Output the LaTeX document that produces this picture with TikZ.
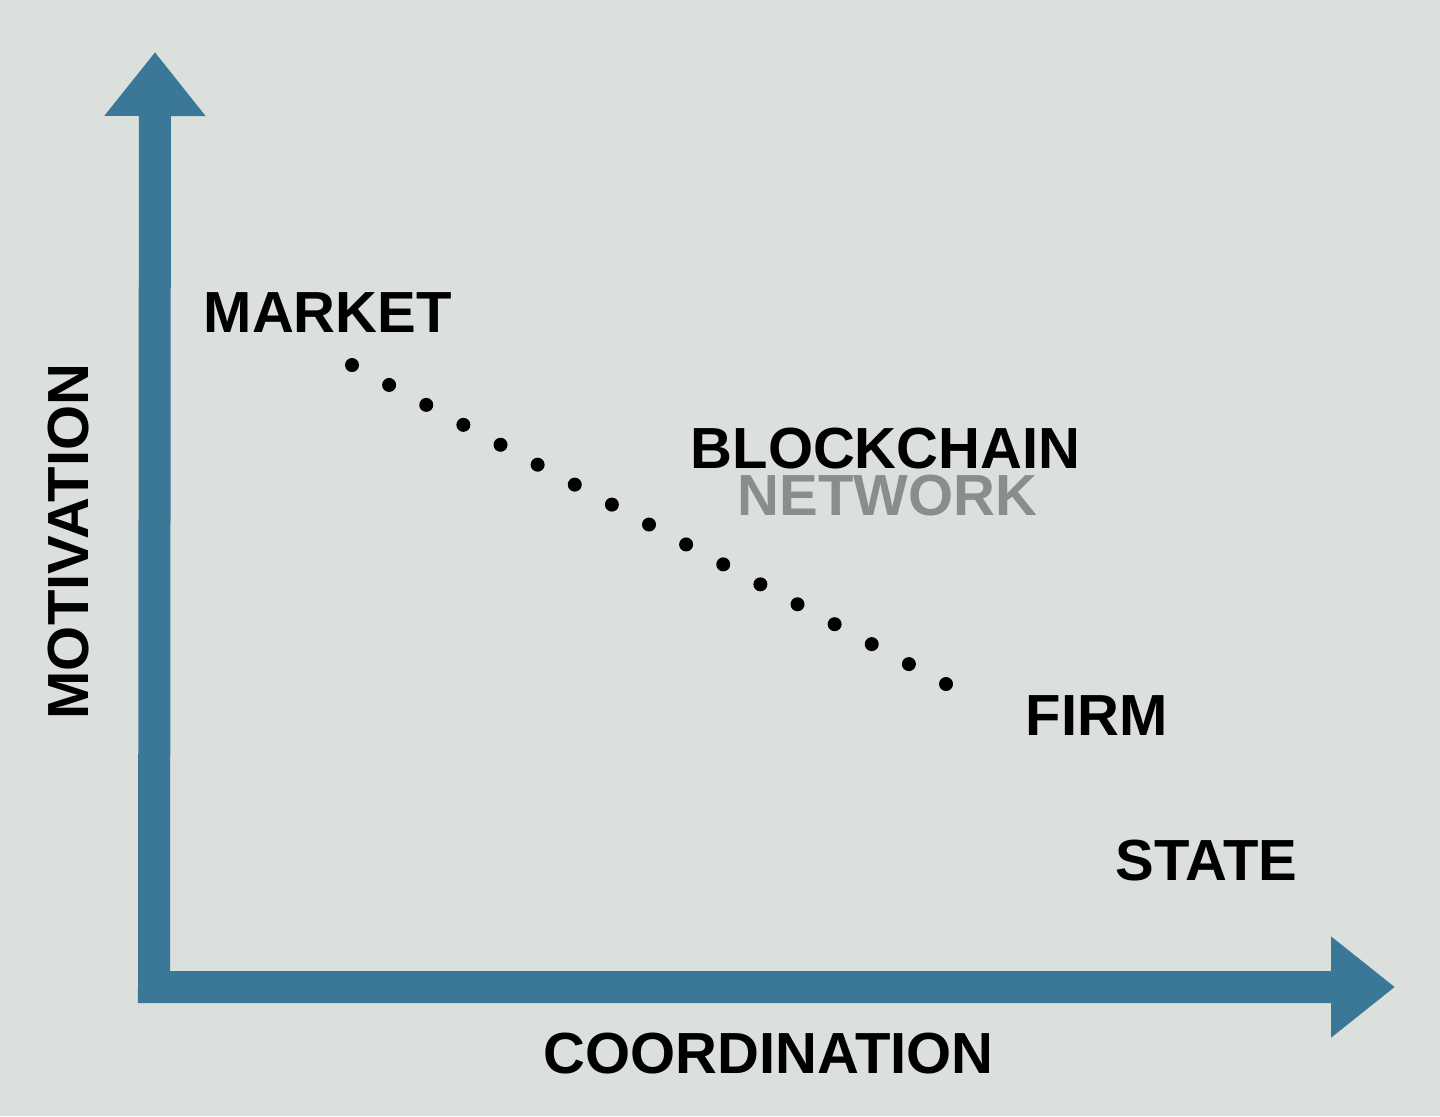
\documentclass[tikz,border=0pt]{standalone}
\usepackage{fontspec}
\setmainfont{Liberation Sans}
\usetikzlibrary{arrows.meta,calc}
\definecolor{axisblue}{HTML}{3B7797}
\definecolor{paper}{HTML}{DCE0DD}
\definecolor{netgray}{HTML}{8A8E8B}
\begin{document}
\begin{tikzpicture}[label/.style={anchor=base west, inner sep=0pt, font=\fontsize{16.5}{20}\selectfont\bfseries}]
        % background
        \fill[paper] (0,0) rectangle (14.4,-11.16);
        % Axes
        \coordinate (ytip) at (1.55,-0.52);
        \coordinate (origin) at (1.54,-9.87);
        \coordinate (xtip) at (13.95,-9.87);
        \draw[axisblue, line width=0.32cm, line join=miter,
              {Triangle[width=0.97cm,length=0.64cm]}-{Triangle[width=0.97cm,length=0.64cm]}]
              (ytip) -- (origin) -- (xtip);
        \node[label] (coord) at (5.43,-10.73) {COORDINATION};
        \node[label, rotate=90] (motiv) at (0.88,-7.20) {MOTIVATION};
        % Labels
        \node[label] (market) at (2.03,-3.32) {MARKET};
        \node[label] (chain) at (6.90,-4.68) {BLOCKCHAIN};
        \node[label, text=netgray] (network) at (7.37,-5.15) {NETWORK};
        \node[label] (firm) at (10.25,-7.35) {FIRM};
        \node[label] (state) at (11.15,-8.80) {STATE};
        % Dotted line
        \coordinate (dotA) at (3.52,-3.65);
        \coordinate (dotB) at (9.46,-6.84);
        \foreach \i in {0,...,16}
            \fill ($(dotA)!\i/16!(dotB)$) circle (0.07);
\end{tikzpicture}
\end{document}
